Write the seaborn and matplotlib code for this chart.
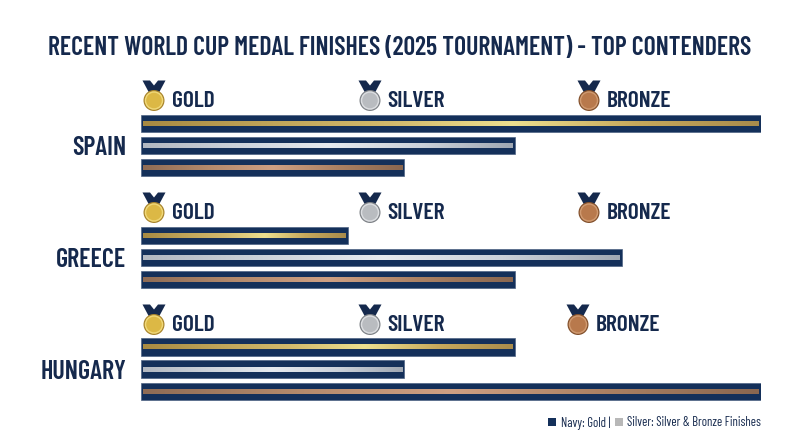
import numpy as np
import pandas as pd
import matplotlib
matplotlib.use("Agg")
import matplotlib.pyplot as plt
from matplotlib.colors import LinearSegmentedColormap
from matplotlib.patches import Circle, Polygon, Rectangle
from matplotlib import font_manager as fm
import seaborn as sns

countries = ["SPAIN", "GREECE", "HUNGARY"]
medals = ["GOLD", "SILVER", "BRONZE"]
gold_values = [6.0, 2.0, 3.62]
silver_values = [3.62, 4.65, 2.55]
bronze_values = [2.55, 3.62, 6.0]
title = "RECENT WORLD CUP MEDAL FINISHES (2025 TOURNAMENT) - TOP CONTENDERS"
note = "Navy: Gold |"
note2 = "Silver: Silver & Bronze Finishes"

NAVY = "#14305a"
INK = "#15294d"
stripe_colors = {
    "GOLD": ["#a88a42", "#bfa458", "#d3ba6c", "#ede08f", "#c7a95c", "#a98c4c"],
    "SILVER": ["#b2b8c1", "#ccd2da", "#e6eaef", "#ccd2da", "#a0a8b3"],
    "BRONZE": ["#8f6c55", "#b48a6c", "#cfa083", "#ab8163", "#8a6750"],
}
medal_colors = {
    "GOLD": ("#dcb845", "#f0d878", "#a8842c"),
    "SILVER": ("#b9bcc0", "#dcdee1", "#7e8287"),
    "BRONZE": ("#b8794c", "#d09a70", "#82502c"),
}

sns.set_theme(style="white")
names = {f.name for f in fm.fontManager.ttflist}
family = next((n for n in ["Barlow Condensed", "Roboto Condensed", "Archivo Narrow", "PT Sans Narrow"]
               if n in names), "Roboto")
k = 1.0 if family != "Roboto" else 0.72
plt.rcParams["font.family"] = [family, "DejaVu Sans"]

df = pd.DataFrame({
    "country": np.tile(countries, 3),
    "medal": np.repeat(medals, 3),
    "value": gold_values + silver_values + bronze_values,
})

fig = plt.figure(figsize=(8, 4.47), dpi=100, facecolor="white")
W, H = 800, 447
ax = fig.add_axes([141 / W, 0, 620 / W, 1])
sns.barplot(data=df, y="country", x="value", hue="medal", order=countries, hue_order=medals,
            palette=[NAVY] * 3, width=0.59, gap=0.2, dodge=True, legend=False, ax=ax,
            saturation=1, errorbar=None, edgecolor="#4f6484", linewidth=0.5)

for cont, medal in zip(ax.containers, medals):
    cmap = LinearSegmentedColormap.from_list(medal, stripe_colors[medal])
    for b in cont:
        x0, x1 = b.get_x(), b.get_x() + b.get_width()
        yc = b.get_y() + b.get_height() / 2
        hh = b.get_height() * 0.125
        ax.imshow(np.linspace(0, 1, 256)[None, :], cmap=cmap, aspect="auto", zorder=3,
                  extent=(x0 + 0.02, x1 - 0.02, yc + hh, yc - hh))

ax.set_xlim(0, 6)
ax.set_ylim((447 - 145.5) / 111.9, -145.5 / 111.9)
ax.set_xlabel(""); ax.set_ylabel("")
ax.xaxis.set_visible(False)
ax.tick_params(axis="y", length=0, pad=10.8)
for t in ax.get_yticklabels():
    t.set_fontsize(18.8 * k); t.set_fontweight("semibold"); t.set_color(INK)
for s in ax.spines.values():
    s.set_visible(False)
ax.patch.set_alpha(0)

ov = fig.add_axes([0, 0, 1, 1], zorder=5)
ov.set_xlim(0, W); ov.set_ylim(H, 0); ov.axis("off")
ov.text(400, 47.5, title, ha="center", va="center", fontsize=18.6 * k, fontweight="semibold", color=INK)


def medal_icon(cx, cy, name):
    base, light, dark = medal_colors[name]
    ov.add_patch(Polygon([(cx - 11.5, cy - 20), (cx - 4, cy - 20), (cx, cy - 15), (cx + 4, cy - 20),
                          (cx + 11.5, cy - 20), (cx + 4, cy - 6), (cx - 4, cy - 6)],
                         closed=True, fc=INK, ec="none"))
    ov.add_patch(Circle((cx, cy), 10.5, fc=dark, ec="none"))
    ov.add_patch(Circle((cx, cy), 9.3, fc=light, ec="none"))
    ov.add_patch(Circle((cx, cy), 7.8, fc=base, ec="none"))


rows = [100.5, 212.5, 324.5]
medal_x = {"GOLD": (154, 172), "SILVER": (370, 387), "BRONZE": (589, 607)}
for i, cy in enumerate(rows):
    for m in medals:
        mx, tx = medal_x[m]
        if i == 2 and m == "BRONZE":
            mx, tx = 578, 596
        medal_icon(mx, cy, m)
        ov.text(tx, cy + 0.5, m, ha="left", va="center", fontsize=17 * k, fontweight="semibold", color=INK)

ov.add_patch(Rectangle((548, 418), 8, 8, fc=NAVY, ec="none"))
ov.text(561, 423, note, ha="left", va="center", fontsize=9.2 * k, color=INK)
ov.add_patch(Rectangle((615, 418), 8, 8, fc="#b8b8b8", ec="none"))
ov.text(761, 423, note2, ha="right", va="center", fontsize=9.2 * k, color=INK)

fig.savefig("out.png", dpi=100, facecolor="white")
